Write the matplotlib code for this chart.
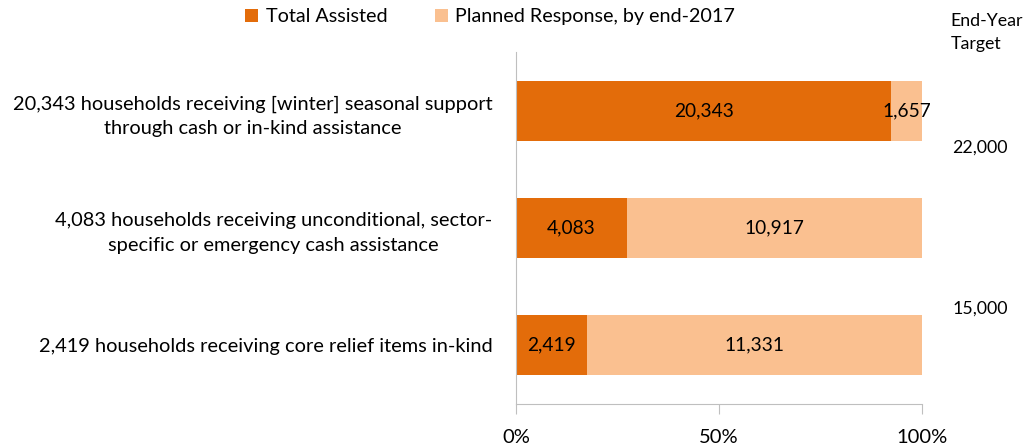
import matplotlib.pyplot as plt

plt.rcParams['font.family'] = ['Lato', 'DejaVu Sans']

# data
categories = ['20,343 households receiving [winter] seasonal support\nthrough cash or in-kind assistance',
              '4,083 households receiving unconditional, sector-\nspecific or emergency cash assistance',
              '2,419 households receiving core relief items in-kind']
assisted = [20343, 4083, 2419]
remaining = [1657, 10917, 11331]
targets = ['22,000', '15,000']
target_pos = [0.31, 1.69]   # where the target labels sit (between category rows)

dark = '#E36C0A'
light = '#FAC090'

fig = plt.figure(figsize=(10.32, 4.44), dpi=100)
ax = fig.add_axes([0.5, 0.0912, 0.3934, 0.7906])

totals = [a + r for a, r in zip(assisted, remaining)]
pa = [a / t for a, t in zip(assisted, totals)]
pr = [r / t for r, t in zip(remaining, totals)]
y = list(range(len(categories)))

b1 = ax.barh(y, pa, height=0.515, color=dark, label='Total Assisted')
b2 = ax.barh(y, pr, left=pa, height=0.515, color=light, label='Planned Response, by end-2017')

for i in y:
    ax.text(pa[i] / 2, i, f'{assisted[i]:,}', ha='center', va='center', fontsize=13.8, color='black')
    ax.text(pa[i] + pr[i] / 2, i, f'{remaining[i]:,}', ha='center', va='center', fontsize=13.8, color='black')

ax.set_ylim(2.5, -0.5)
ax.set_xlim(0, 1)
ax.set_yticks(y)
ax.set_yticklabels(categories, fontsize=14.4, multialignment='center', linespacing=1.55)
ax.tick_params(axis='y', length=0, pad=17)
ax.set_xticks([0, 0.5, 1])
ax.set_xticklabels(['0%', '50%', '100%'], fontsize=14.5)
ax.tick_params(axis='x', length=7, color='#BFBFBF', pad=11, direction='out')

for s in ['top', 'right']:
    ax.spines[s].set_visible(False)
ax.spines['left'].set_color('#BFBFBF')
ax.spines['bottom'].set_color('#BFBFBF')

# right-hand target labels
fig.text(0.921, 0.952, 'End-Year', fontsize=12.8, va='center', ha='left')
fig.text(0.921, 0.900, 'Target', fontsize=12.8, va='center', ha='left')
for lbl, p in zip(targets, target_pos):
    ax.text(1.075, p, lbl, transform=ax.get_yaxis_transform(), fontsize=12.8, va='center', ha='left')

fig.legend(handles=[b1, b2], loc='center', bbox_to_anchor=(0.475, 0.962), ncol=2, frameon=False,
           fontsize=14.2, handlelength=0.65, handleheight=0.65, columnspacing=2.4, handletextpad=0.4)

fig.savefig('out.png', dpi=100)
